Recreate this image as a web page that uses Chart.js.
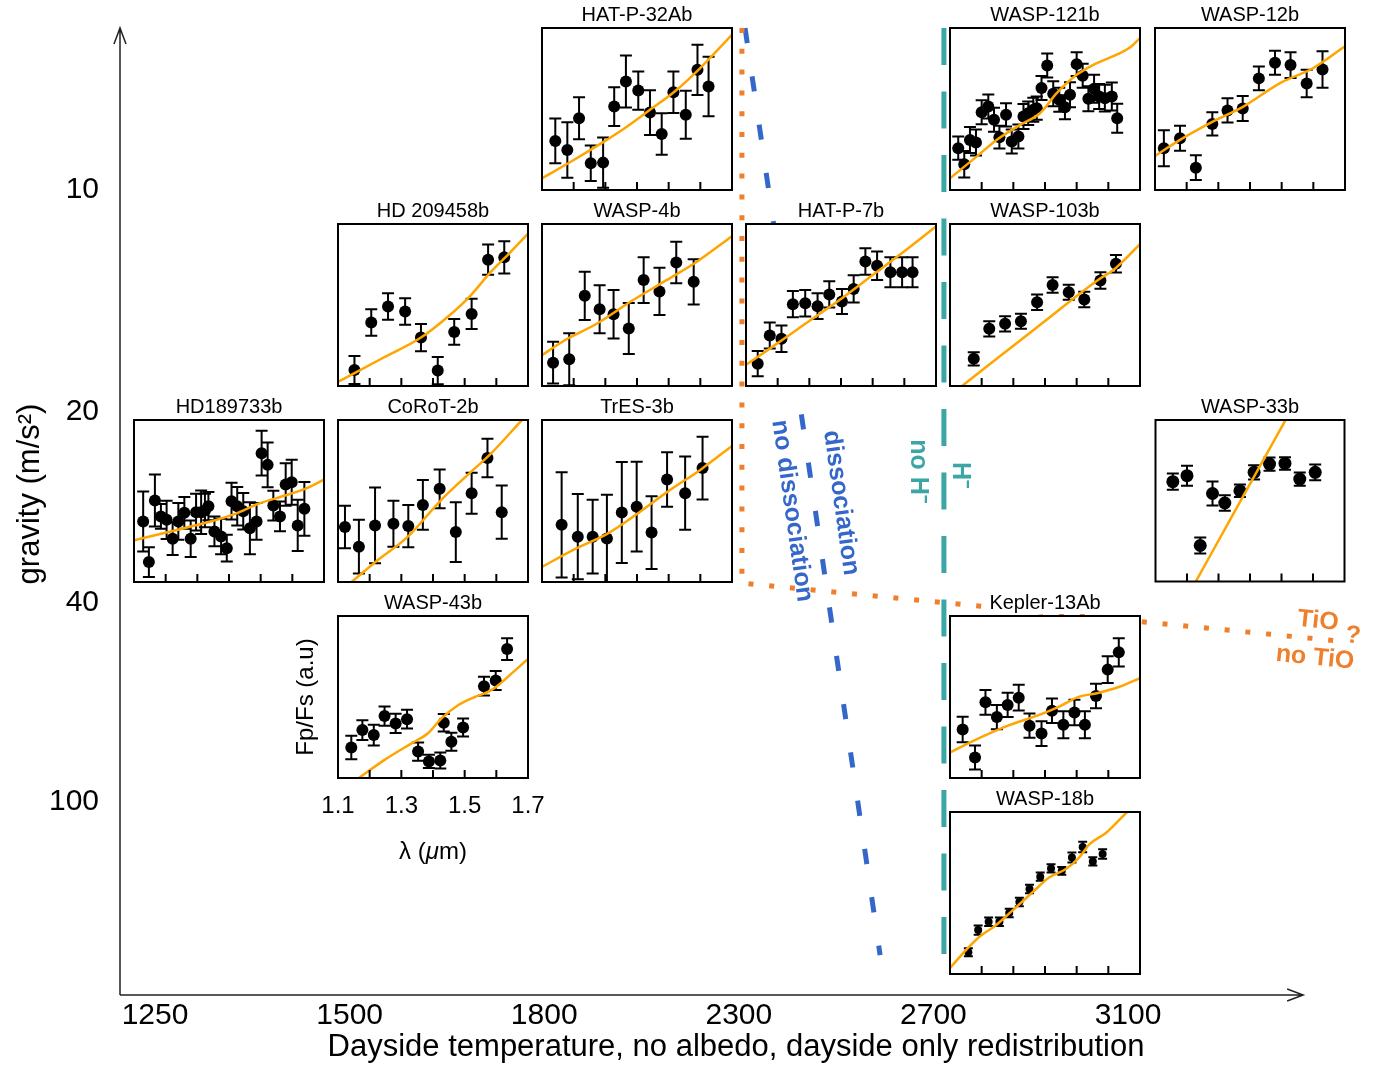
<!DOCTYPE html>
<html>
<head>
<meta charset="utf-8">
<script src="https://cdn.jsdelivr.net/npm/chart.js@4.4.0/dist/chart.umd.min.js"></script>
<style>
body { margin: 0; background: #fff; }
#wrap { position: relative; width: 1385px; height: 1068px; overflow: hidden; background: #fff; }
canvas { position: absolute; }
</style>
</head>
<body>
<div id="wrap"><canvas id="main" width="1385" height="1068" style="left:0;top:0"></canvas></div>
<script>
'use strict';
// main axes
let tempLabels = ['1250', '1500', '1800', '2300', '2700', '3100'];
let tempAxisEnd = 5.9;
let gravityLabels = ['10', '20', '40', '100'];
let gravityPos = [0.827, 1.959, 2.934, 3.949];

// boundary lines (x = temperature column, y = gravity row)
let tioLineX = [3.016, 3.016, 6.089];
let tioLineY = [0, 2.832, 3.128];
let dissLineX = [3.032, 3.726];
let dissLineY = [0, 4.73];
let hminLineX = [4.054, 4.054];
let hminLineY = [0, 4.75];

// panel x ticks (micron)
let wlTicks = [1.2, 1.3, 1.4, 1.5, 1.6];
let wlLabels = ['1.1', '1.3', '1.5', '1.7'];

// spectra: wavelength (um), Fp/Fs (a.u.), error, and model
let hatp32Wl = [1.142, 1.180, 1.217, 1.254, 1.293, 1.328, 1.365, 1.404, 1.441, 1.478, 1.515, 1.554, 1.591, 1.626];
let hatp32Flux = [30.3, 24.7, 44.3, 16.5, 16.9, 51.5, 67.0, 61.4, 47.8, 34.6, 60.4, 46.4, 74.2, 63.9];
let hatp32Err = [13.8, 17.1, 13.0, 10.9, 15.5, 12.0, 16.1, 11.8, 13.8, 12.8, 12.8, 14.8, 15.5, 18.4];
let hatp32ModelWl = [1.1, 1.203, 1.288, 1.361, 1.441, 1.519, 1.594, 1.645, 1.7];
let hatp32Model = [7.2, 18.8, 28.9, 38.1, 49.5, 60.8, 74.2, 84.5, 95.9];

let wasp121Wl = [1.126, 1.145, 1.163, 1.182, 1.200, 1.221, 1.239, 1.256, 1.277, 1.295, 1.316, 1.332, 1.347, 1.363, 1.374, 1.389, 1.407, 1.426, 1.445, 1.463, 1.479, 1.500, 1.519, 1.537, 1.555, 1.571, 1.589, 1.611, 1.628];
let wasp121Flux = [25.8, 15.9, 30.9, 29.3, 48.0, 51.5, 43.3, 32.6, 46.4, 29.9, 33.0, 45.4, 47.4, 49.5, 50.5, 62.9, 76.9, 59.4, 55.7, 51.1, 58.8, 77.7, 70.5, 56.3, 62.5, 57.7, 56.7, 57.7, 44.3];
let wasp121Err = [7.2, 8.2, 8, 8, 7.4, 7.4, 7.4, 7, 7.2, 7.4, 7.4, 7.7, 7.2, 7.4, 7.2, 7.4, 7.4, 7.7, 7.4, 7.4, 7.7, 7.4, 7.4, 7.7, 8.6, 7.7, 8.2, 8.7, 8.9];
let wasp121ModelWl = [1.1, 1.184, 1.247, 1.321, 1.384, 1.437, 1.5, 1.553, 1.626, 1.668, 1.7];
let wasp121Model = [7.2, 20.6, 30.9, 40.2, 47.4, 59.8, 71.1, 77.3, 83.5, 87.9, 93.8];

let wasp12Wl = [1.128, 1.179, 1.229, 1.281, 1.329, 1.377, 1.428, 1.479, 1.528, 1.579, 1.629];
let wasp12Flux = [25.8, 31.9, 13.8, 40.8, 49.1, 50.3, 68.9, 78.6, 77.1, 65.8, 74.4];
let wasp12Err = [11.1, 7.7, 7.6, 7.2, 7.5, 7.7, 7.4, 7.4, 8, 8.5, 11.3];
let wasp12ModelWl = [1.1, 1.179, 1.284, 1.379, 1.495, 1.6, 1.7];
let wasp12Model = [21, 30.9, 42.3, 51.5, 66, 75.3, 88.7];

let hd209Wl = [1.152, 1.205, 1.258, 1.312, 1.362, 1.415, 1.467, 1.522, 1.574, 1.625];
let hd209Flux = [9.9, 39.2, 49.1, 46.0, 29.9, 9.5, 33.4, 44.5, 78.0, 79.4];
let hd209Err = [8.6, 8.2, 8.2, 8.2, 8.4, 8.4, 8, 9.3, 9.3, 9.9];
let hd209ModelWl = [1.1, 1.234, 1.362, 1.444, 1.518, 1.581, 1.644, 1.7];
let hd209Model = [2.5, 16.5, 29.9, 42.3, 55.7, 70.1, 82.5, 94];

let wasp4Wl = [1.135, 1.186, 1.235, 1.282, 1.326, 1.374, 1.421, 1.471, 1.524, 1.579];
let wasp4Flux = [14.4, 16.5, 55.7, 47.4, 44.3, 35.5, 65.4, 58.4, 76.3, 64.3];
let wasp4Err = [12.9, 16, 14.9, 14.8, 15, 15.7, 14.1, 14.6, 12.8, 14];
let wasp4ModelWl = [1.1, 1.168, 1.274, 1.379, 1.484, 1.589, 1.7];
let wasp4Model = [19, 27.8, 38.6, 52, 64.3, 76.7, 92.5];

let hatp7Wl = [1.137, 1.175, 1.212, 1.248, 1.287, 1.326, 1.363, 1.403, 1.440, 1.477, 1.514, 1.556, 1.593, 1.626];
let hatp7Flux = [13.8, 31.2, 29.2, 50.5, 51.1, 49.3, 56.5, 52.2, 59.9, 76.8, 74.3, 70.2, 70.2, 70.2];
let hatp7Err = [7.8, 8, 8.2, 8.1, 8.2, 8, 8.1, 7.7, 8.4, 8.2, 8.8, 9.2, 9.2, 9.2];
let hatp7ModelWl = [1.1, 1.182, 1.287, 1.393, 1.498, 1.603, 1.7];
let hatp7Model = [13.1, 24, 38.4, 52.8, 68.2, 83.6, 98.5];

let wasp103Wl = [1.175, 1.224, 1.274, 1.324, 1.375, 1.424, 1.475, 1.524, 1.575, 1.624];
let wasp103Flux = [16.8, 35.3, 38.4, 40.0, 51.7, 62.4, 57.9, 53.4, 65.1, 75.4];
let wasp103Err = [4.1, 4.7, 4.7, 4.6, 4.8, 4.8, 4.6, 4.8, 5.1, 5.4];
let wasp103ModelWl = [1.13, 1.382, 1.572, 1.614, 1.7];
let wasp103Model = [-1.2, 37.4, 66.1, 71.3, 87.5];

let hd189Wl = [1.129, 1.147, 1.166, 1.185, 1.203, 1.222, 1.240, 1.259, 1.279, 1.296, 1.312, 1.324, 1.335, 1.354, 1.375, 1.393, 1.408, 1.426, 1.445, 1.466, 1.487, 1.503, 1.522, 1.540, 1.561, 1.579, 1.598, 1.617, 1.638];
let hd189Flux = [37.4, 12.3, 50.3, 40.5, 38.4, 26.7, 37.4, 42.7, 26.7, 43.1, 43.1, 44.1, 46.8, 31.2, 28.1, 20.9, 49.9, 46.8, 43.7, 33.2, 37.4, 79.5, 72.3, 47.2, 40.5, 60.2, 61.6, 34.9, 45.2];
let hd189Err = [18.5, 9.2, 16, 7.6, 11.8, 10, 11.3, 9.8, 11.3, 11.3, 13.4, 10.3, 8.7, 9.2, 10.9, 8.2, 11.3, 11.9, 11.3, 16, 11.3, 13.8, 13.8, 9.2, 9.2, 13.1, 13.9, 15.8, 16.6];
let hd189ModelWl = [1.1, 1.229, 1.335, 1.419, 1.493, 1.577, 1.640, 1.7];
let hd189Model = [25.7, 31.8, 37, 42.1, 48.3, 53.4, 57.5, 63.2];

let corot2Wl = [1.122, 1.166, 1.217, 1.275, 1.322, 1.368, 1.421, 1.472, 1.522, 1.572, 1.617];
let corot2Flux = [33.9, 21.8, 34.9, 35.9, 34.5, 47.6, 57.5, 30.8, 54.8, 76.6, 43.1];
let corot2Err = [13.1, 16.6, 23.4, 14.2, 13, 15.4, 11.9, 18.5, 12.7, 11.9, 16.4];
let corot2ModelWl = [1.14, 1.224, 1.319, 1.424, 1.519, 1.582, 1.677, 1.7];
let corot2Model = [-0.5, 13.3, 27.7, 50.3, 67.8, 79.1, 99.2, 104];

let tres3Wl = [1.162, 1.213, 1.260, 1.305, 1.352, 1.399, 1.446, 1.495, 1.552, 1.607];
let tres3Flux = [35.3, 28.0, 28.0, 26.9, 42.9, 46.5, 30.5, 63.3, 54.8, 70.3];
let tres3Err = [32.5, 26.3, 22.8, 27, 31.1, 27.7, 22.4, 16.8, 22.6, 19.3];
let tres3ModelWl = [1.1, 1.202, 1.307, 1.392, 1.497, 1.602, 1.7];
let tres3Model = [9.3, 20.1, 29.9, 40.9, 55.8, 69.5, 84];

let wasp33Wl = [1.155, 1.200, 1.242, 1.281, 1.320, 1.368, 1.413, 1.462, 1.511, 1.558, 1.607];
let wasp33Flux = [61.8, 65.5, 22.3, 54.5, 48.6, 56.2, 67.6, 72.7, 73.1, 63.4, 67.6];
let wasp33Err = [5, 6.2, 5, 7.4, 4.8, 3.9, 4.4, 4.1, 3.9, 4.1, 4.9];
let wasp33ModelWl = [1.22, 1.355, 1.53];
let wasp33Model = [-2.8, 44.6, 106];

let wasp43Wl = [1.142, 1.177, 1.213, 1.247, 1.282, 1.318, 1.353, 1.387, 1.423, 1.434, 1.458, 1.495, 1.561, 1.598, 1.634];
let wasp43Flux = [18.8, 29.6, 26.5, 38.2, 33.7, 36.3, 16.3, 10.2, 10.8, 34.1, 22.4, 31.2, 56.7, 60.2, 79.6];
let wasp43Err = [7.3, 6.1, 6.4, 5.9, 5.9, 5.8, 5.6, 4.1, 4.9, 5.4, 5.6, 5.6, 5.8, 5.9, 6.7];
let wasp43ModelWl = [1.16, 1.247, 1.332, 1.384, 1.426, 1.479, 1.532, 1.574, 1.605, 1.647, 1.7];
let wasp43Model = [-0.8, 11.2, 21.4, 27.6, 36.7, 44.9, 50, 53.1, 57.1, 64.3, 73.5];

let kep13Wl = [1.140, 1.179, 1.212, 1.248, 1.282, 1.317, 1.351, 1.389, 1.422, 1.458, 1.493, 1.526, 1.561, 1.598, 1.633];
let kep13Flux = [29.9, 12.6, 46.7, 37.6, 45.1, 49.6, 32.3, 27.4, 41.5, 32.9, 40.4, 32.9, 50.6, 66.9, 77.6];
let kep13Err = [7.9, 7.4, 7.6, 7.5, 7.5, 8, 7.5, 7.6, 7.6, 8.3, 7.9, 8.3, 7.6, 8.3, 8.7];
let kep13ModelWl = [1.1, 1.172, 1.277, 1.382, 1.445, 1.508, 1.561, 1.635, 1.7];
let kep13Model = [15.7, 22.8, 31.9, 39, 44.1, 50.2, 52.2, 56.3, 61.6];

let wasp18Wl = [1.158, 1.189, 1.222, 1.256, 1.287, 1.319, 1.351, 1.385, 1.419, 1.453, 1.485, 1.519, 1.551, 1.582];
let wasp18Flux = [13.4, 27.1, 32.2, 32.2, 37.7, 44.4, 52.5, 60.1, 65.2, 63.7, 71.9, 78.4, 69.5, 74.1];
let wasp18Err = [2.5, 2.9, 2.6, 2.6, 2.6, 2.6, 2.6, 2.6, 2.5, 2.4, 3.1, 3.2, 2.5, 2.9];
let wasp18ModelWl = [1.1, 1.151, 1.193, 1.245, 1.298, 1.361, 1.414, 1.466, 1.508, 1.540, 1.593, 1.651, 1.672];
let wasp18Model = [3.7, 14.9, 23, 30.1, 39.3, 50.5, 59.7, 64.8, 71.9, 80, 87.2, 98.4, 102.4];

// layout of the panel grid
let colLeft = [134, 338, 542, 746, 950, 1155];
let rowTop = [28, 224, 420, 616, 812];
let boxW = 190;
let boxH = 162;

let fontFam = '"Liberation Sans", Arial, Helvetica, sans-serif';
let orangeDot = '#ef7f2c';
let blue = '#3467c9';
let teal = '#3ca5a5';

let panels = [
    { name: 'HAT-P-32Ab', col: 2, row: 0, wl: hatp32Wl, flux: hatp32Flux, err: hatp32Err, mWl: hatp32ModelWl, mFlux: hatp32Model },
    { name: 'WASP-121b', col: 4, row: 0, wl: wasp121Wl, flux: wasp121Flux, err: wasp121Err, mWl: wasp121ModelWl, mFlux: wasp121Model },
    { name: 'WASP-12b', col: 5, row: 0, wl: wasp12Wl, flux: wasp12Flux, err: wasp12Err, mWl: wasp12ModelWl, mFlux: wasp12Model },
    { name: 'HD 209458b', col: 1, row: 1, wl: hd209Wl, flux: hd209Flux, err: hd209Err, mWl: hd209ModelWl, mFlux: hd209Model },
    { name: 'WASP-4b', col: 2, row: 1, wl: wasp4Wl, flux: wasp4Flux, err: wasp4Err, mWl: wasp4ModelWl, mFlux: wasp4Model },
    { name: 'HAT-P-7b', col: 3, row: 1, wl: hatp7Wl, flux: hatp7Flux, err: hatp7Err, mWl: hatp7ModelWl, mFlux: hatp7Model },
    { name: 'WASP-103b', col: 4, row: 1, wl: wasp103Wl, flux: wasp103Flux, err: wasp103Err, mWl: wasp103ModelWl, mFlux: wasp103Model },
    { name: 'HD189733b', col: 0, row: 2, wl: hd189Wl, flux: hd189Flux, err: hd189Err, mWl: hd189ModelWl, mFlux: hd189Model },
    { name: 'CoRoT-2b', col: 1, row: 2, wl: corot2Wl, flux: corot2Flux, err: corot2Err, mWl: corot2ModelWl, mFlux: corot2Model },
    { name: 'TrES-3b', col: 2, row: 2, wl: tres3Wl, flux: tres3Flux, err: tres3Err, mWl: tres3ModelWl, mFlux: tres3Model },
    { name: 'WASP-33b', col: 5, row: 2, wl: wasp33Wl, flux: wasp33Flux, err: wasp33Err, mWl: wasp33ModelWl, mFlux: wasp33Model, r: 6.5 },
    { name: 'WASP-43b', col: 1, row: 3, wl: wasp43Wl, flux: wasp43Flux, err: wasp43Err, mWl: wasp43ModelWl, mFlux: wasp43Model, axes: true },
    { name: 'Kepler-13Ab', col: 4, row: 3, wl: kep13Wl, flux: kep13Flux, err: kep13Err, mWl: kep13ModelWl, mFlux: kep13Model },
    { name: 'WASP-18b', col: 4, row: 4, wl: wasp18Wl, flux: wasp18Flux, err: wasp18Err, mWl: wasp18ModelWl, mFlux: wasp18Model, r: 4, cap: 4.5 }
];

// text notes on the main plot (x = temperature column, y = gravity row)
let notes = [
    { text: 'dissociation', x: 3.525, y: 2.423, rot: 82, color: blue },
    { text: 'no dissociation', x: 3.273, y: 2.464, rot: 82, color: blue },
    { text: 'H\u207B', x: 4.137, y: 2.281, rot: 90, color: teal },
    { text: 'no H\u207B', x: 3.921, y: 2.26, rot: 90, color: teal },
    { text: 'TiO', x: 5.976, y: 3.026, rot: 6, color: orangeDot },
    { text: '?', x: 6.156, y: 3.102, rot: 6, color: orangeDot },
    { text: 'no TiO', x: 5.961, y: 3.214, rot: 6, color: orangeDot }
];

function toPts(xs, ys) {
    return xs.map((x, i) => ({ x: x, y: ys[i] }));
}

let framePlugin = {
    id: 'frame',
    afterDraw(chart) {
        let ctx = chart.ctx;
        let xs = chart.scales.x;
        let ys = chart.scales.y;
        let a = chart.chartArea;
        let x0 = a.left;
        let y0 = a.bottom;
        let xEnd = xs.getPixelForValue(tempAxisEnd);
        let yEnd = ys.getPixelForValue(0);
        ctx.save();
        ctx.strokeStyle = '#222';
        ctx.lineWidth = 1.5;
        ctx.beginPath();
        ctx.moveTo(x0, y0); ctx.lineTo(x0, yEnd);
        ctx.moveTo(x0 - 6, yEnd + 16); ctx.lineTo(x0, yEnd); ctx.lineTo(x0 + 6, yEnd + 16);
        ctx.moveTo(x0, y0); ctx.lineTo(xEnd, y0);
        ctx.moveTo(xEnd - 16, y0 - 6); ctx.lineTo(xEnd, y0); ctx.lineTo(xEnd - 16, y0 + 6);
        ctx.stroke();

        // axis titles
        ctx.fillStyle = '#000';
        ctx.textAlign = 'center';
        ctx.textBaseline = 'middle';
        ctx.font = '31px ' + fontFam;
        ctx.fillText('Dayside temperature, no albedo, dayside only redistribution', (a.left + a.right) / 2, 1047);
        ctx.save();
        ctx.translate(30, 494);
        ctx.rotate(-Math.PI / 2);
        ctx.fillText('gravity (m/s\u00B2)', 0, 0);
        ctx.restore();

        // notes
        ctx.font = 'bold 25px ' + fontFam;
        notes.forEach(n => {
            ctx.save();
            ctx.translate(xs.getPixelForValue(n.x), ys.getPixelForValue(n.y));
            ctx.rotate(n.rot * Math.PI / 180);
            ctx.fillStyle = n.color;
            ctx.fillText(n.text, 0, 0);
            ctx.restore();
        });
        ctx.restore();
    }
};

new Chart(document.getElementById('main'), {
    type: 'scatter',
    data: {
        datasets: [
            { data: toPts(tioLineX, tioLineY), showLine: true, borderColor: orangeDot, borderWidth: 5, borderDash: [5, 15.8], pointRadius: 0, clip: false },
            { data: toPts(dissLineX, dissLineY), showLine: true, borderColor: blue, borderWidth: 5, borderDash: [15.3, 33.5], pointRadius: 0, clip: false },
            { data: toPts(hminLineX, hminLineY), showLine: true, borderColor: teal, borderWidth: 5, borderDash: [37, 26.5], pointRadius: 0, clip: false }
        ]
    },
    options: {
        responsive: false,
        animation: false,
        events: [],
        layout: { padding: { left: 0, right: 33, top: 28, bottom: 0 } },
        plugins: { legend: { display: false }, tooltip: { enabled: false } },
        scales: {
            x: {
                type: 'linear', min: -0.18, max: 6.151,
                afterFit: s => { s.height = 73; s.paddingLeft = 0; s.paddingRight = 0; },
                afterBuildTicks: s => { s.ticks = tempLabels.map((t, i) => ({ value: i })); },
                ticks: { callback: v => tempLabels[v], font: { size: 30, family: fontFam }, color: '#000', padding: 3, maxRotation: 0, autoSkip: false },
                grid: { display: false, drawTicks: false },
                border: { display: false }
            },
            y: {
                type: 'linear', reverse: true, min: 0, max: 4.934,
                afterFit: s => { s.width = 120; s.paddingTop = 0; s.paddingBottom = 0; },
                afterBuildTicks: s => { s.ticks = gravityPos.map(v => ({ value: v })); },
                ticks: { callback: v => gravityLabels[gravityPos.indexOf(v)], font: { size: 30, family: fontFam }, color: '#000', padding: 21, autoSkip: false },
                grid: { display: false, drawTicks: false },
                border: { display: false }
            }
        }
    },
    plugins: [framePlugin]
});

let panelPlugin = {
    id: 'panelDeco',
    beforeDraw(chart, args, o) {
        let ctx = chart.ctx;
        let a = chart.chartArea;
        let cx = (a.left + a.right) / 2;
        ctx.save();
        ctx.fillStyle = '#fff';
        ctx.fillRect(a.left - 1, a.top - 1, a.right - a.left + 2, a.bottom - a.top + 2);
        ctx.font = '20px ' + fontFam;
        let w = ctx.measureText(o.title).width;
        ctx.fillRect(cx - w / 2 - 3, a.top - 27, w + 6, 25);
        ctx.fillStyle = '#000';
        ctx.textAlign = 'center';
        ctx.textBaseline = 'alphabetic';
        ctx.fillText(o.title, cx, a.top - 7);
        ctx.restore();
    },
    beforeDatasetsDraw(chart, args, o) {
        let ctx = chart.ctx;
        let a = chart.chartArea;
        let xs = chart.scales.x;
        let ys = chart.scales.y;
        let cap = o.cap;
        ctx.save();
        ctx.beginPath();
        ctx.rect(a.left, a.top, a.right - a.left, a.bottom - a.top);
        ctx.clip();
        ctx.strokeStyle = '#000';
        ctx.lineWidth = 2;
        chart.data.datasets[1].data.forEach(p => {
            let x = xs.getPixelForValue(p.x);
            let y1 = ys.getPixelForValue(p.y + p.e);
            let y2 = ys.getPixelForValue(p.y - p.e);
            ctx.beginPath();
            ctx.moveTo(x, y1); ctx.lineTo(x, y2);
            ctx.moveTo(x - cap, y1); ctx.lineTo(x + cap, y1);
            ctx.moveTo(x - cap, y2); ctx.lineTo(x + cap, y2);
            ctx.stroke();
        });
        ctx.restore();
    },
    afterDatasetsDraw(chart, args, o) {
        let ctx = chart.ctx;
        let a = chart.chartArea;
        let xs = chart.scales.x;
        ctx.save();
        ctx.strokeStyle = '#000';
        ctx.lineWidth = 2;
        ctx.strokeRect(a.left, a.top, a.right - a.left, a.bottom - a.top);
        ctx.beginPath();
        wlTicks.forEach(t => {
            let x = xs.getPixelForValue(t);
            ctx.moveTo(x, a.bottom); ctx.lineTo(x, a.bottom - 8);
        });
        ctx.stroke();
        if (o.axes) {
            ctx.fillStyle = '#000';
            ctx.textAlign = 'center';
            ctx.textBaseline = 'middle';
            ctx.font = '24px ' + fontFam;
            wlLabels.forEach(t => {
                ctx.fillText(t, xs.getPixelForValue(parseFloat(t)), a.bottom + 28);
            });
            // λ (μm) with italic mu
            let parts = [['\u03BB (', ''], ['\u03BC', 'italic '], ['m)', '']];
            let total = 0;
            parts.forEach(p => { ctx.font = p[1] + '24px ' + fontFam; total += ctx.measureText(p[0]).width; });
            let x = (a.left + a.right) / 2 - total / 2;
            ctx.textAlign = 'left';
            parts.forEach(p => {
                ctx.font = p[1] + '24px ' + fontFam;
                ctx.fillText(p[0], x, a.bottom + 74);
                x += ctx.measureText(p[0]).width;
            });
            ctx.textAlign = 'center';
            ctx.font = '24px ' + fontFam;
            ctx.translate(a.left - 32, (a.top + a.bottom) / 2);
            ctx.rotate(-Math.PI / 2);
            ctx.fillText('Fp/Fs (a.u)', 0, 0);
        }
        ctx.restore();
    }
};

let wrap = document.getElementById('wrap');

function makePanel(p) {
    let pad = p.axes ? { left: 60, right: 20, top: 32, bottom: 95 } : { left: 6, right: 6, top: 32, bottom: 6 };
    let c = document.createElement('canvas');
    c.width = boxW + pad.left + pad.right;
    c.height = boxH + pad.top + pad.bottom;
    c.style.left = (colLeft[p.col] - pad.left) + 'px';
    c.style.top = (rowTop[p.row] - pad.top) + 'px';
    wrap.appendChild(c);
    new Chart(c, {
        type: 'scatter',
        data: {
            datasets: [
                { data: toPts(p.mWl, p.mFlux), showLine: true, borderColor: '#ffa500', borderWidth: 2.5, pointRadius: 0, cubicInterpolationMode: 'monotone' },
                { data: p.wl.map((x, i) => ({ x: x, y: p.flux[i], e: p.err[i] })), pointRadius: p.r || 6, backgroundColor: '#000', borderWidth: 0 }
            ]
        },
        options: {
            responsive: false,
            animation: false,
            events: [],
            layout: { padding: pad },
            plugins: {
                legend: { display: false },
                tooltip: { enabled: false },
                panelDeco: { title: p.name, axes: !!p.axes, cap: p.cap || 6 }
            },
            scales: {
                x: { type: 'linear', min: 1.1, max: 1.7, display: false },
                y: { type: 'linear', min: 0, max: 100, display: false }
            }
        },
        plugins: [panelPlugin]
    });
}

panels.forEach(makePanel);
</script>
</body>
</html>
